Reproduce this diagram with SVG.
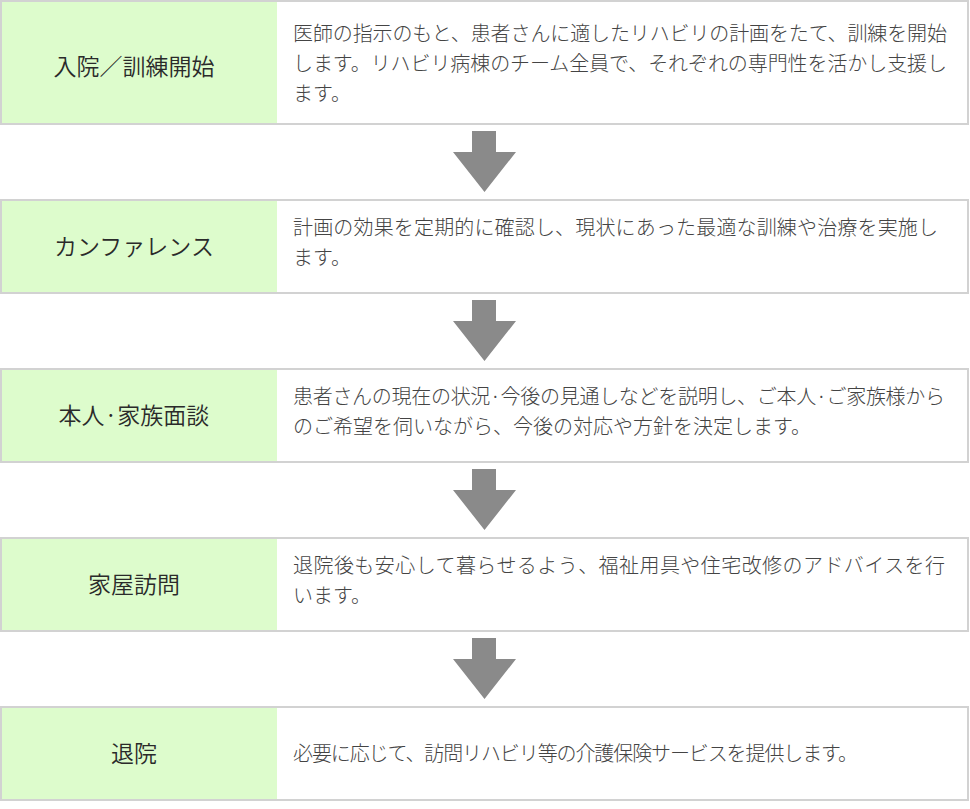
<svg xmlns="http://www.w3.org/2000/svg" width="970" height="809" viewBox="0 0 970 809">
<style>
.box{fill:#fff;stroke:#d2d2d2;stroke-width:2}
.head{fill:#ddfccc}
.t{font-family:"Noto Sans CJK JP","Noto Sans",sans-serif;font-size:23px;font-weight:350;fill:#2a2a2a;text-anchor:middle}
.d{font-family:"Noto Sans CJK JP","Noto Sans",sans-serif;font-size:20px;font-weight:300;fill:#444}
.arr{fill:#8a8a8a}
</style>
<rect width="970" height="809" fill="#fff"/>
<g id="step1">
<rect class="box" x="1" y="1" width="967" height="123"/>
<rect class="head" x="2" y="2" width="275" height="121"/>
<text class="t" x="134" y="75">入院／訓練開始</text>
<text class="d" x="293" y="41" textLength="654">医師の指示のもと、患者さんに適したリハビリの計画をたて、訓練を開始</text>
<text class="d" x="293" y="71" textLength="654">します。リハビリ病棟のチーム全員で、それぞれの専門性を活かし支援し</text>
<text class="d" x="293" y="101">ます。</text>
</g>
<g id="step2">
<rect class="box" x="1" y="200" width="967" height="93"/>
<rect class="head" x="2" y="201" width="275" height="91"/>
<text class="t" x="134" y="255">カンファレンス</text>
<text class="d" x="293" y="235" textLength="645">計画の効果を定期的に確認し、現状にあった最適な訓練や治療を実施し</text>
<text class="d" x="293" y="265">ます。</text>
</g>
<g id="step3">
<rect class="box" x="1" y="369" width="967" height="93"/>
<rect class="head" x="2" y="370" width="275" height="91"/>
<text class="t" x="134" y="424">本人·家族面談</text>
<text class="d" x="293" y="404" textLength="652">患者さんの現在の状況·今後の見通しなどを説明し、ご本人·ご家族様から</text>
<text class="d" x="293" y="434">のご希望を伺いながら、今後の対応や方針を決定します。</text>
</g>
<g id="step4">
<rect class="box" x="1" y="538" width="967" height="93"/>
<rect class="head" x="2" y="539" width="275" height="91"/>
<text class="t" x="134" y="593">家屋訪問</text>
<text class="d" x="293" y="573" textLength="652">退院後も安心して暮らせるよう、福祉用具や住宅改修のアドバイスを行</text>
<text class="d" x="293" y="603">います。</text>
</g>
<g id="step5">
<rect class="box" x="1" y="707" width="967" height="93"/>
<rect class="head" x="2" y="708" width="275" height="91"/>
<text class="t" x="134" y="762">退院</text>
<text class="d" x="293" y="761" textLength="565">必要に応じて、訪問リハビリ等の介護保険サービスを提供します。</text>
</g>
<g id="connectors">
<polygon class="arr" points="472,131 496,131 496,152 516,152 484.5,192 453,152 472,152"/>
<polygon class="arr" points="472,300 496,300 496,321 516,321 484.5,361 453,321 472,321"/>
<polygon class="arr" points="472,469 496,469 496,490 516,490 484.5,530 453,490 472,490"/>
<polygon class="arr" points="472,638 496,638 496,659 516,659 484.5,699 453,659 472,659"/>
</g>
</svg>
